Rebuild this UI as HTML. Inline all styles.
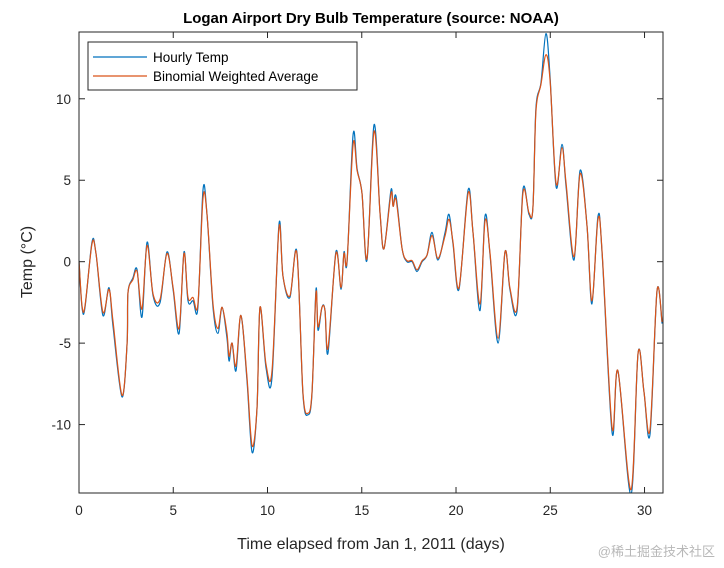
<!DOCTYPE html>
<html><head><meta charset="utf-8"><style>
body{margin:0;background:#fff;width:724px;height:563px;overflow:hidden;font-family:"Liberation Sans",Arial,sans-serif}
</style></head><body>
<svg id="chart" width="724" height="563" viewBox="0 0 724 563" xmlns="http://www.w3.org/2000/svg" font-family="Liberation Sans, Arial, sans-serif">
<text x="371" y="23" text-anchor="middle" font-size="15" font-weight="bold" fill="#000">Logan Airport Dry Bulb Temperature (source: NOAA)</text>
<text transform="translate(32,262) rotate(-90)" text-anchor="middle" font-size="16" fill="#262626">Temp (°C)</text>
<text x="371" y="549" text-anchor="middle" font-size="16" fill="#262626">Time elapsed from Jan 1, 2011 (days)</text>
<text x="715" y="556" text-anchor="end" font-size="13" fill="#b8b8b8" font-family="Liberation Sans, Noto Sans CJK SC, sans-serif">@稀土掘金技术社区</text>
<g id="series"></g>
<g id="axes"></g>
<g>
<rect x="88" y="42" width="269" height="48" fill="#fff" stroke="#262626" stroke-width="1"/>
<line x1="93" y1="57" x2="147" y2="57" stroke="#0072BD" stroke-width="1.2"/>
<text x="153" y="62" font-size="13.5" fill="#000">Hourly Temp</text>
<line x1="93" y1="76" x2="147" y2="76" stroke="#D95319" stroke-width="1.2"/>
<text x="153" y="81" font-size="13.5" fill="#000">Binomial Weighted Average</text>
</g>
</svg>
<script>
const days=[0,0.16,0.32,0.69,0.90,1.27,1.59,1.80,2.28,2.55,2.60,2.86,3.08,3.34,3.61,3.93,4.30,4.67,4.99,5.31,5.57,5.78,6.05,6.31,6.58,6.79,7.11,7.37,7.59,7.85,7.96,8.12,8.33,8.59,8.91,9.18,9.44,9.60,9.92,10.24,10.61,10.82,11.19,11.56,11.88,12.15,12.36,12.57,12.68,12.89,13.05,13.21,13.63,13.90,14.06,14.22,14.54,14.75,15.01,15.28,15.65,15.97,16.18,16.55,16.66,16.82,17.14,17.40,17.67,17.93,18.20,18.46,18.73,19.04,19.42,19.63,19.84,20.16,20.64,20.90,21.27,21.54,21.80,22.23,22.60,22.86,23.24,23.55,23.87,24.08,24.24,24.51,24.77,24.99,25.31,25.62,25.84,26.26,26.58,26.95,27.21,27.53,27.75,28.28,28.59,29.28,29.66,29.97,30.29,30.66,30.93];
const avgTemp=[0.06,-2.7,-2.7,1.1,0.5,-3.1,-1.7,-3.6,-8.2,-5.0,-1.9,-1.1,-0.6,-2.9,1.0,-2.0,-2.3,0.5,-1.6,-4.1,0.5,-2.2,-2.2,-2.6,3.9,2.9,-2.6,-4.1,-2.8,-4.4,-5.8,-5.0,-6.4,-3.3,-7.1,-11.3,-9.0,-2.8,-6.3,-6.7,2.1,-0.9,-2.1,0.5,-8.0,-9.3,-8.0,-1.9,-4.0,-2.8,-3.0,-5.3,0.5,-1.6,0.5,0.1,7.2,5.6,4.2,0.2,8.0,3.0,0.8,4.2,3.4,3.8,0.8,0.06,0.06,-0.5,0.06,0.4,1.6,0.2,1.6,2.6,1.2,-1.6,4.2,1.8,-2.6,2.5,0.6,-4.7,0.6,-1.6,-2.8,4.2,3.0,3.3,9.2,10.9,12.7,11.1,4.8,7.0,4.8,0.3,5.4,2.2,-2.4,2.6,0.6,-10.2,-6.7,-14.0,-5.6,-8.0,-10.3,-1.8,-3.7];
const hourlyTemp=[0.06,-2.8,-2.8,1.2,0.5,-3.3,-1.6,-3.9,-8.3,-5.0,-1.9,-1.0,-0.5,-3.4,1.2,-2.1,-2.5,0.6,-1.7,-4.4,0.6,-2.4,-2.4,-2.8,4.4,2.9,-2.8,-4.4,-2.8,-4.7,-6.1,-5.0,-6.7,-3.3,-7.3,-11.7,-9.0,-2.8,-6.5,-7.1,2.3,-0.9,-2.2,0.6,-8.1,-9.4,-8.1,-1.7,-4.2,-2.8,-3.0,-5.6,0.6,-1.7,0.6,0.0,7.8,5.7,4.2,0.1,8.4,3.0,0.8,4.4,3.4,4.0,0.8,0.0,0.0,-0.6,0.0,0.4,1.8,0.1,1.8,2.9,1.1,-1.7,4.4,1.8,-3.0,2.8,0.5,-5.0,0.6,-1.7,-3.0,4.4,2.9,3.3,9.4,11.0,14.0,11.3,4.6,7.2,4.6,0.1,5.6,2.2,-2.6,2.8,0.5,-10.5,-6.7,-14.3,-5.6,-8.0,-10.6,-1.8,-3.8];
const xTicks=[0,5,10,15,20,25,30];
const yTicks=[-10,-5,0,5,10];
const X0=79,X1=663,Y0=32,Y1=493,xmin=0,xmax=30.98,ymin=-14.2,ymax=14.1;
const sx=v=>X0+(v-xmin)/(xmax-xmin)*(X1-X0);
const sy=v=>Y1-(v-ymin)/(ymax-ymin)*(Y1-Y0);
const NS="http://www.w3.org/2000/svg";
function smoothPath(xs,ys){
  const p=xs.map((d,i)=>[sx(d),sy(ys[i])]);
  let s="M"+p[0][0].toFixed(1)+","+p[0][1].toFixed(1);
  for(let i=0;i<p.length-1;i++){
    const a=p[Math.max(i-1,0)],b=p[i],c=p[i+1],d=p[Math.min(i+2,p.length-1)];
    const c1=[b[0]+(c[0]-a[0])/6,b[1]+(c[1]-a[1])/6],c2=[c[0]-(d[0]-b[0])/6,c[1]-(d[1]-b[1])/6];
    s+="C"+c1[0].toFixed(1)+","+c1[1].toFixed(1)+" "+c2[0].toFixed(1)+","+c2[1].toFixed(1)+" "+c[0].toFixed(1)+","+c[1].toFixed(1);
  }
  return s;
}
const series=document.getElementById('series');
const clip=document.createElementNS(NS,'clipPath');clip.setAttribute('id','pc');
const cr=document.createElementNS(NS,'rect');cr.setAttribute('x',X0);cr.setAttribute('y',Y0);cr.setAttribute('width',X1-X0);cr.setAttribute('height',Y1-Y0);
clip.appendChild(cr);series.appendChild(clip);
series.setAttribute('clip-path','url(#pc)');
const hp=document.createElementNS(NS,'path');


hp.setAttribute('d',smoothPath(days,hourlyTemp));hp.setAttribute('fill','none');hp.setAttribute('stroke','#0072BD');hp.setAttribute('stroke-width','1.2');
series.appendChild(hp);
const ap=document.createElementNS(NS,'path');


ap.setAttribute('d',smoothPath(days,avgTemp));ap.setAttribute('fill','none');ap.setAttribute('stroke','#D95319');ap.setAttribute('stroke-width','1.2');
series.appendChild(ap);
const axes=document.getElementById('axes');
const box=document.createElementNS(NS,'rect');


box.setAttribute('x',X0);box.setAttribute('y',Y0);box.setAttribute('width',X1-X0);box.setAttribute('height',Y1-Y0);box.setAttribute('fill','none');box.setAttribute('stroke','#262626');box.setAttribute('stroke-width','1');
axes.appendChild(box);
function ln(x1,y1,x2,y2,name){const l=document.createElementNS(NS,'line');l.setAttribute('x1',x1);l.setAttribute('y1',y1);l.setAttribute('x2',x2);l.setAttribute('y2',y2);l.setAttribute('stroke','#262626');l.setAttribute('stroke-width','1');


axes.appendChild(l);}
xTicks.forEach(t=>{const x=sx(t);ln(x,Y1,x,Y1-6,'x-tick');ln(x,Y0,x,Y0+6,'x-tick-top');
const tx=document.createElementNS(NS,'text');tx.setAttribute('x',x);tx.setAttribute('y',Y1+22);tx.setAttribute('text-anchor','middle');tx.setAttribute('font-size','13.5');tx.setAttribute('fill','#262626');tx.textContent=t;


axes.appendChild(tx);});
yTicks.forEach(t=>{const y=sy(t);ln(X0,y,X0+6,y,'y-tick');ln(X1,y,X1-6,y,'y-tick-right');
const tx=document.createElementNS(NS,'text');tx.setAttribute('x',X0-8);tx.setAttribute('y',y+5);tx.setAttribute('text-anchor','end');tx.setAttribute('font-size','13.5');tx.setAttribute('fill','#262626');tx.textContent=t;


axes.appendChild(tx);});
</script>
</body></html>
